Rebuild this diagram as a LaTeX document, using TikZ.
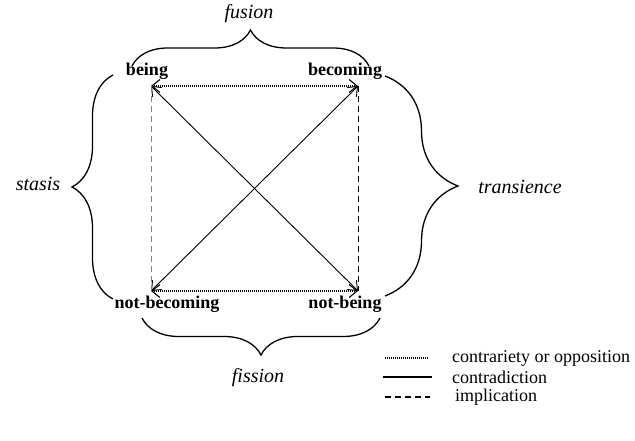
\documentclass[tikz,border=0pt]{standalone}
\usepackage{fontspec}
\setmainfont{Liberation Serif}[
  BoldFont={Liberation Serif Bold},
  ItalicFont={Liberation Serif Italic}]
\usetikzlibrary{arrows.meta,decorations.pathreplacing}
\begin{document}
\begin{tikzpicture}[x=1pt,y=-1pt,
  term/.style={font=\fontsize{18}{18}\selectfont\bfseries, inner sep=0pt},
  aspect/.style={font=\fontsize{20}{20}\selectfont\itshape, inner sep=0pt},
  legtext/.style={font=\fontsize{18}{18}\selectfont, anchor=west, inner sep=0pt},
  tip/.style={{Straight Barb[length=8pt,width=13pt]}-{Straight Barb[length=8pt,width=13pt]}},
  contrary/.style={line width=1.1pt, dash pattern=on 0.9pt off 1.1pt},
  contra/.style={line width=0.9pt},
  implies/.style={line width=1pt, dash pattern=on 6pt off 4pt},
  bracket/.style={line width=1.3pt, decorate},
]
\useasboundingbox (0,0) rectangle (635,441);

% corners of the square of opposition
\coordinate (be)  at (151,86);
\coordinate (bc)  at (358,86);
\coordinate (nbc) at (151,291);
\coordinate (nbe) at (358,291);

% the four terms
\node[term] (tBe)  at (147,71)  {being};
\node[term] (tBc)  at (345,71)  {becoming};
\node[term] (tNbc) at (167,304) {not-becoming};
\node[term] (tNbe) at (345,304) {not-being};

% relations
\draw[contrary, tip] (be) -- (bc);
\draw[contrary, tip] (nbc) -- (nbe);
\draw[contra, tip] (be) -- (nbe);
\draw[contra, tip] (bc) -- (nbc);
\draw[implies, gray] (be) -- (nbc);
\draw[implies] (bc) -- (nbe);

% braces grouping the terms
\coordinate (topL) at (132,66);  \coordinate (topR) at (369,66);
\coordinate (lftT) at (113,75);  \coordinate (lftB) at (113,299);
\coordinate (rgtT) at (385,76);  \coordinate (rgtB) at (385,296);
\coordinate (botL) at (142,318); \coordinate (botR) at (380,318);
\draw[bracket, decoration={brace, amplitude=36pt}] (topL) -- (topR);
\draw[bracket, decoration={brace, amplitude=41pt}] (lftB) -- (lftT);
\draw[bracket, decoration={brace, amplitude=73pt}] (rgtT) -- (rgtB);
\draw[bracket, decoration={brace, amplitude=37pt}] (botR) -- (botL);

\node[aspect] (fus) at (249,14)  {fusion};
\node[aspect] (sta) at (38,184)  {stasis};
\node[aspect] (tra) at (520,187) {transience};
\node[aspect] (fis) at (258,378) {fission};

% legend
\coordinate (l1a) at (385,358); \coordinate (l1b) at (428,358);
\coordinate (l2a) at (383,377); \coordinate (l2b) at (432,377);
\coordinate (l3a) at (385,397); \coordinate (l3b) at (430,397);
\draw[contrary] (l1a) -- (l1b);
\draw[contra, line width=1.3pt] (l2a) -- (l2b);
\draw[implies, line width=1.2pt] (l3a) -- (l3b);
\node[legtext] (k1) at (452,358) {contrariety or opposition};
\node[legtext] (k2) at (452,377) {contradiction};
\node[legtext] (k3) at (455,397) {implication};
\end{tikzpicture}
\end{document}
